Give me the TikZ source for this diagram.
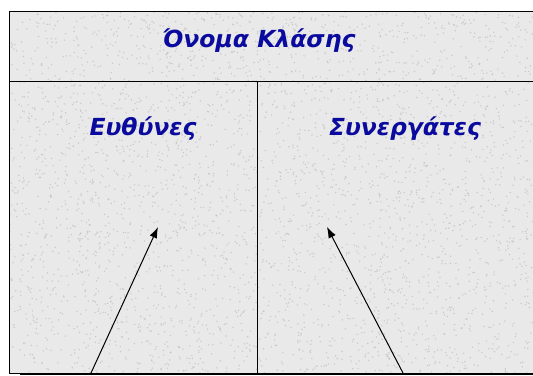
\documentclass[tikz,border=0pt]{standalone}
\usepackage{fontspec}
\setmainfont{DejaVu Sans}
\usepackage{tikz}
\usetikzlibrary{arrows.meta}
\usepackage{xcolor}
\definecolor{cardblue}{HTML}{0A0A9E}
\definecolor{granite}{HTML}{E9E9E9}
\definecolor{speck}{HTML}{C2C2C2}
\definecolor{shade}{HTML}{9A9A9A}

\tikzset{
  heading/.style={text=cardblue, anchor=base, font=\bfseries\itshape\fontsize{23.5}{28}\selectfont},
  pointer/.style={-{Latex[length=11pt,width=8pt]}, line width=1pt}
}

\begin{document}
\begin{tikzpicture}[x=1pt,y=-1pt]
    \useasboundingbox (0,0) rectangle (533,375);
    \fill[granite] (9,11) rectangle (540,373);
    \begin{scope}
      \clip (9,11) rectangle (540,373);
      \pgfmathsetseed{7}
      \foreach \k in {1,...,3600}
        \fill[speck, opacity=0.8] (9+524*rnd,11+362*rnd) circle (0.8);
    \end{scope}
    \draw[shade, line width=1.5pt] (20,374.6) -- (540,374.6);
    \draw[line width=0.8pt] (540,11) -- (9,11) -- (9,373) -- (540,373);
    \draw[line width=0.8pt] (9,81) -- (540,81);
    \draw[line width=0.8pt] (257,81) -- (257,373);
    \node[heading] (classname) at (259,47) {Όνομα Κλάσης};
    \node[heading] (duties) at (143,135) {Ευθύνες};
    \node[heading] (partners) at (405,135) {Συνεργάτες};
    \coordinate (dutiesfoot) at (91,373);
    \coordinate (dutiestip) at (158,227);
    \coordinate (partnersfoot) at (403,373);
    \coordinate (partnerstip) at (327,227);
    \draw[pointer] (dutiesfoot) -- (dutiestip);
    \draw[pointer] (partnersfoot) -- (partnerstip);
\end{tikzpicture}
\end{document}
